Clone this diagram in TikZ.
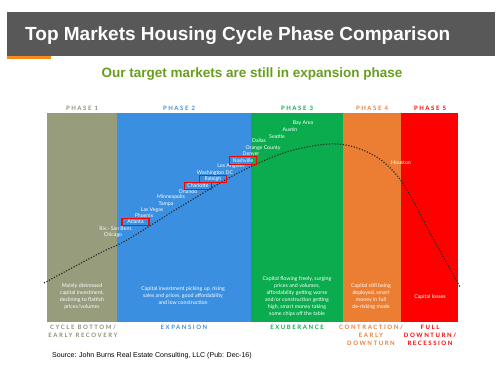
\documentclass[tikz,border=0pt]{standalone}
\usepackage{fontspec}
\setmainfont{Liberation Sans}
\newfontfamily\smallfont{Lato}
\newfontfamily\phasefont[LetterSpace=26]{Lato}
\definecolor{hdr}{RGB}{88,88,88}
\definecolor{orng}{RGB}{246,140,30}
\definecolor{subgreen}{RGB}{104,158,30}
\definecolor{pone}{RGB}{151,156,124}
\definecolor{ponetxt}{RGB}{140,145,118}
\definecolor{ptwo}{RGB}{58,143,224}
\definecolor{pthree}{RGB}{10,172,78}
\definecolor{pfour}{RGB}{236,126,52}
\definecolor{pfive}{RGB}{254,0,0}
\tikzset{
  phlabel/.style={font=\phasefont\bfseries\fontsize{6}{7}\selectfont, inner sep=0pt},
  botlabel/.style={font=\phasefont\bfseries\fontsize{6}{8}\selectfont, inner sep=0pt, align=center, anchor=north},
  city/.style={font=\smallfont\fontsize{5.2}{5.5}\selectfont, text=white, inner sep=0pt},
  hl/.style={city, draw=red, line width=1.1pt, minimum width=27pt, minimum height=7.5pt},
  desc/.style={font=\smallfont\fontsize{5.3}{7}\selectfont, text=white, align=center, inner sep=0pt},
  cyclecurve/.style={draw=black!85, line width=1.1pt, dash pattern=on 1.2pt off 1.6pt}
}
\begin{document}
\begin{tikzpicture}[x=1pt,y=-1pt]
\useasboundingbox (0,0) rectangle (500,367);
\fill[white] (0,0) rectangle (500,367);
% header
\fill[hdr] (7,12) rectangle (495,56);
\fill[orng] (7,56) rectangle (51,59);
\node[anchor=west, text=white, font=\bfseries\fontsize{19}{22}\selectfont, inner sep=0pt] (title) at (25,35.5) {Top Markets Housing Cycle Phase Comparison};
\node[text=subgreen, font=\bfseries\fontsize{13.5}{15}\selectfont, inner sep=0pt] (subtitle) at (252,74) {Our target markets are still in expansion phase};
% phases
\fill[pone] (47,113) rectangle (117,322);
\fill[ptwo] (117,113) rectangle (251,322);
\fill[pthree] (251,113) rectangle (343,322);
\fill[pfour] (343,113) rectangle (401,322);
\fill[pfive] (401,113) rectangle (458,322);
% phase labels
\node[phlabel, text=ponetxt] (ph1) at (82,108) {PHASE 1};
\node[phlabel, text=ptwo] (ph2) at (179,108) {PHASE 2};
\node[phlabel, text=pthree] (ph3) at (297,108) {PHASE 3};
\node[phlabel, text=pfour] (ph4) at (372,108) {PHASE 4};
\node[phlabel, text=pfive] (ph5) at (430,108) {PHASE 5};
% bottom labels
\node[botlabel, text=ponetxt] (b1) at (83,325) {CYCLE BOTTOM/\\EARLY RECOVERY};
\node[botlabel, text=ptwo] (b2) at (184,325) {EXPANSION};
\node[botlabel, text=pthree] (b3) at (297,325) {EXUBERANCE};
\node[botlabel, text=pfour] (b4) at (371,325) {CONTRACTION/\\EARLY\\DOWNTURN};
\node[botlabel, text=pfive] (b5) at (430,325) {FULL\\DOWNTURN/\\RECESSION};
% descriptions
\node[desc] (d1) at (82,296.5) {Mainly distressed\\capital investment,\\declining to flattish\\prices/volumes};
\node[desc] (d2) at (183,295.5) {Capital investment picking up, rising\\sales and prices, good affordability\\and low construction};
\node[desc] (d3) at (297,296.5) {Capital flowing freely, surging\\prices and volumes,\\affordability getting worse\\and/or construction getting\\high, smart money taking\\some chips off the table};
\node[desc] (d4) at (371,296.5) {Capital still being\\deployed, smart\\money in full\\de-risking mode};
\node[desc] (d5) at (430,297) {Capital losses};
% curve
\draw[cyclecurve] plot[smooth, tension=0.55] coordinates {(44,283) (100,253) (127,240) (180,207) (240,172) (290,151) (338,144) (375,156) (402,182) (430,233) (460,287)};
% cities phase 2
\node[city] (chicago) at (113,235) {Chicago};
\node[city] (riv) at (116,228.5) {Riv.- San Bern.};
\node[hl] (atlanta) at (135.5,222) {Atlanta};
\node[city] (phoenix) at (144,216) {Phoenix};
\node[city] (lasvegas) at (152,210) {Las Vegas};
\node[city] (tampa) at (166,204) {Tampa};
\node[city] (minneapolis) at (171,197.5) {Minneapolis};
\node[city] (orlando) at (188,192) {Orlando};
\node[hl] (charlotte) at (198,186) {Charlotte};
\node[hl] (raleigh) at (213,179) {Raleigh};
\node[city] (washington) at (215,173) {Washington DC};
\node[city] (losangeles) at (231,166.5) {Los Angeles};
\node[hl] (nashville) at (243,160.5) {Nashville};
% cities phase 3
\node[city] (denver) at (251,154) {Denver};
\node[city] (orange) at (263,148) {Orange County};
\node[city] (dallas) at (259,141) {Dallas};
\node[city] (seattle) at (277,137) {Seattle};
\node[city] (austin) at (290,130) {Austin};
\node[city] (bayarea) at (303,123) {Bay Area};
% phase 4/5
\node[city] (houston) at (401,163) {Houston};
% source
\node[anchor=west, font=\fontsize{7.05}{9}\selectfont, inner sep=0pt] (source) at (52,356) {Source: John Burns Real Estate Consulting, LLC (Pub: Dec-16)};
\end{tikzpicture}
\end{document}
